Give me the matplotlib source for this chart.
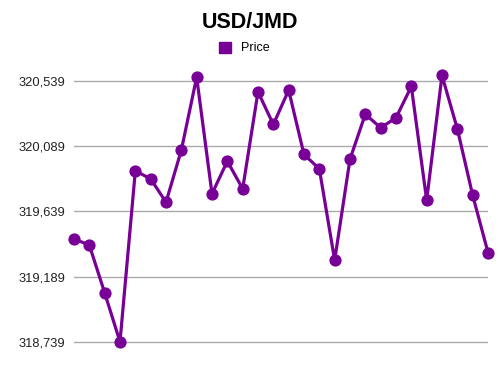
import matplotlib
matplotlib.use("Agg")
import matplotlib.pyplot as plt
from matplotlib.ticker import FuncFormatter
from matplotlib.patches import Patch

plt.rcParams['font.family'] = ['Liberation Sans', 'DejaVu Sans']

title = "USD/JMD"
series_name = "Price"
prices = [319449, 319406, 319077, 318739, 319918, 319863, 319702, 320061, 320564,
          319760, 319985, 319794, 320463, 320238, 320475, 320031, 319932, 319302,
          319999, 320309, 320215, 320284, 320500, 319716, 320576, 320208, 319750,
          319355]
yticks = [318739, 319189, 319639, 320089, 320539]

color = '#780096'

fig = plt.figure(figsize=(5, 3.75), dpi=100)
ax = fig.add_axes([0.148, 0.083, 0.828, 0.744])

x = list(range(len(prices)))
ax.plot(x, prices, color=color, lw=2.3, marker='o', ms=7.8, clip_on=False, zorder=3)

ax.set_xlim(0, len(prices) - 1)
ax.set_ylim(318725, 320649)
ax.set_yticks(yticks)
ax.yaxis.set_major_formatter(FuncFormatter(lambda v, p: f"{int(round(v)):,}"))
ax.set_xticks([])
ax.grid(axis='y', color='#aaaaaa', lw=1)
ax.set_axisbelow(True)
for s in ax.spines.values():
    s.set_visible(False)
ax.tick_params(axis='y', length=0, pad=6, labelsize=9.3, labelcolor='#222222')

fig.text(0.5, 0.94, title, ha='center', va='center', fontsize=15.5, fontweight='bold')
handle = Patch(facecolor=color, edgecolor=color)
fig.legend([handle], [series_name], loc='center', bbox_to_anchor=(0.489, 0.872),
           frameon=False, fontsize=9, handlelength=1.0, handleheight=1.0, handletextpad=0.8)

fig.savefig("out.png", dpi=100)
